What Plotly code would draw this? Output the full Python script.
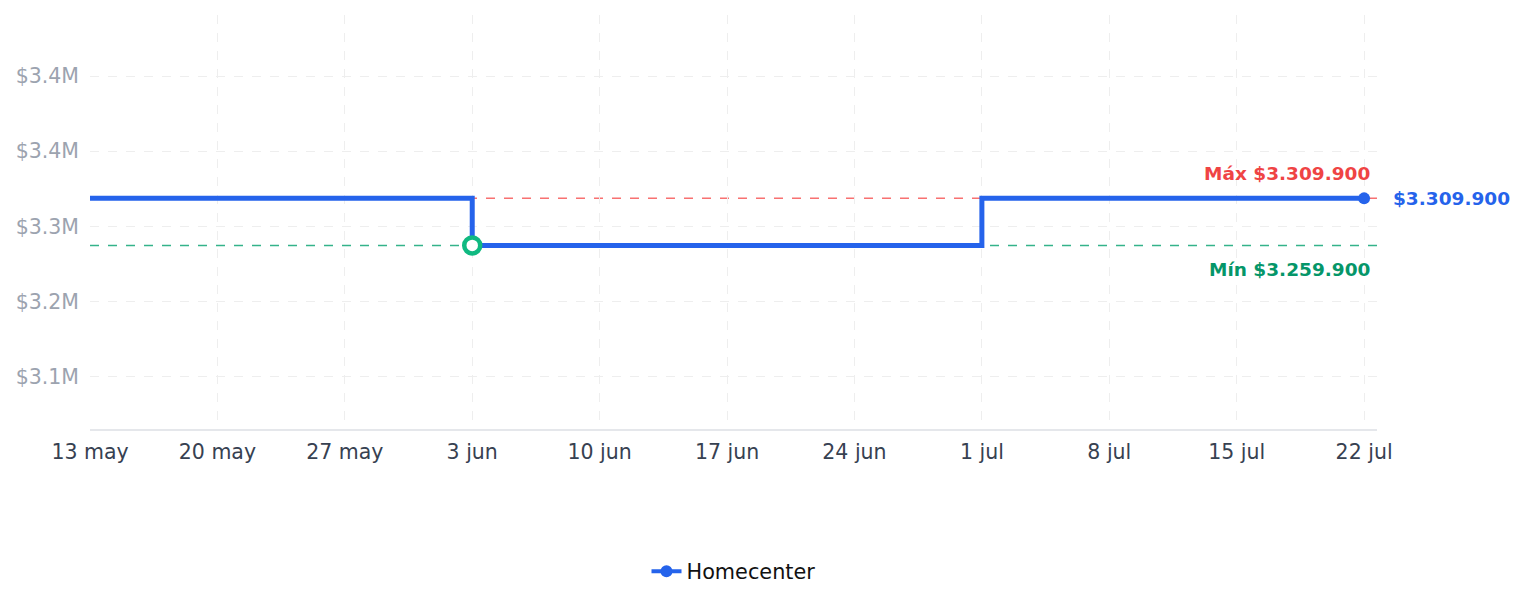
import plotly.graph_objects as go

# ---- data ----
dates = ["2024-05-13", "2024-06-03", "2024-07-01", "2024-07-22"]
prices = [3309900, 3259900, 3309900, 3309900]
series_name = "Homecenter"

x_tick_vals = ["2024-05-13", "2024-05-20", "2024-05-27", "2024-06-03", "2024-06-10",
               "2024-06-17", "2024-06-24", "2024-07-01", "2024-07-08", "2024-07-15",
               "2024-07-22"]
x_tick_text = ["13 may", "20 may", "27 may", "3 jun", "10 jun", "17 jun", "24 jun",
               "1 jul", "8 jul", "15 jul", "22 jul"]
y_tick_vals = [3120000, 3200000, 3280000, 3360000, 3440000]
y_tick_text = ["$3.1M", "$3.2M", "$3.3M", "$3.4M", "$3.4M"]


def fmt(v):
    return "$" + f"{v:,}".replace(",", ".")


vmax = max(prices)
vmin = min(prices)
imin = prices.index(vmin)

BLUE = "#2563eb"
RED_LINE = "#f87171"
RED_TXT = "#ef4444"
GREEN_LINE = "#34b38a"
GREEN_MARK = "#10b981"
GREEN_TXT = "#059669"

fig = go.Figure()

fig.add_trace(go.Scatter(
    x=dates, y=prices, mode="lines", line=dict(color=BLUE, width=5, shape="hv"),
    showlegend=False, hoverinfo="skip"))

fig.add_trace(go.Scatter(
    x=[dates[imin]], y=[vmin], mode="markers",
    marker=dict(size=16, color="white", line=dict(color=GREEN_MARK, width=4.5)),
    showlegend=False))

fig.add_trace(go.Scatter(
    x=[dates[-1]], y=[prices[-1]], mode="markers",
    marker=dict(size=12, color=BLUE), showlegend=False))

fig.add_trace(go.Scatter(
    x=[None], y=[None], mode="lines+markers", name=series_name,
    line=dict(color=BLUE, width=4), marker=dict(size=12, color=BLUE)))

fig.add_shape(type="line", xref="paper", x0=0, x1=1, yref="y", y0=vmax, y1=vmax,
              line=dict(color=RED_LINE, width=1.5, dash="dash"), layer="below")
fig.add_shape(type="line", xref="paper", x0=0, x1=1, yref="y", y0=vmin, y1=vmin,
              line=dict(color=GREEN_LINE, width=1.5, dash="dash"), layer="below")

fig.add_annotation(xref="paper", x=0.9962, yref="y", y=vmax, yshift=25,
                   text="<b>Máx " + fmt(vmax) + "</b>", showarrow=False,
                   xanchor="right", yanchor="middle",
                   font=dict(color=RED_TXT, size=18.5, family="DejaVu Sans"))
fig.add_annotation(xref="paper", x=0.9962, yref="y", y=vmin, yshift=-24,
                   text="<b>Mín " + fmt(vmin) + "</b>", showarrow=False,
                   xanchor="right", yanchor="middle",
                   font=dict(color=GREEN_TXT, size=18.5, family="DejaVu Sans"))
fig.add_annotation(xref="paper", x=1.0105, yref="y", y=prices[-1],
                   text="<b>" + fmt(prices[-1]) + "</b>", showarrow=False,
                   xanchor="left", yanchor="middle",
                   font=dict(color=BLUE, size=18.5, family="DejaVu Sans"))

fig.update_layout(
    width=1524, height=607,
    margin=dict(l=90, r=147, t=15, b=178),
    paper_bgcolor="white", plot_bgcolor="white",
    font=dict(family="DejaVu Sans", size=20.5),
    legend=dict(orientation="h", x=0.5, xanchor="center", y=-0.345, yanchor="middle",
                font=dict(size=20.8, color="#111111")),
    xaxis=dict(
        range=["2024-05-13", "2024-07-22 17:00"],
        tickvals=x_tick_vals, ticktext=x_tick_text,
        tickfont=dict(color="#374151", size=20.5),
        showgrid=True, gridcolor="#eeeeee", griddash="dash", gridwidth=1,
        showline=True, linecolor="#e5e7eb", linewidth=1.5,
        ticks="", zeroline=False, ticklabelstandoff=4),
    yaxis=dict(
        range=[3064700, 3504850],
        tickvals=y_tick_vals, ticktext=y_tick_text,
        tickfont=dict(color="#9ca3af", size=20.5),
        showgrid=True, gridcolor="#eeeeee", griddash="dash", gridwidth=1,
        showline=False, zeroline=False, ticks="", ticklabelstandoff=10),
)

fig.write_html("out.html")
